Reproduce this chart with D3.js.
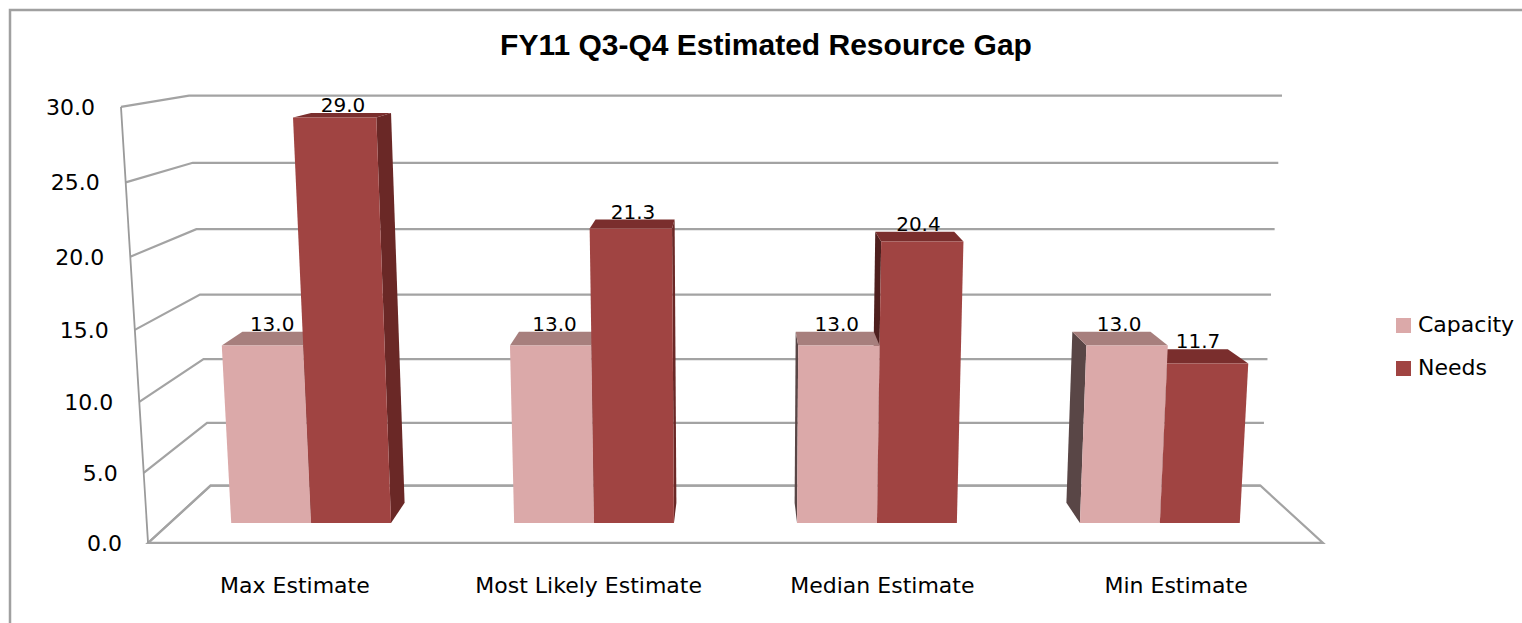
<!DOCTYPE html>
<html>
<head>
<meta charset="utf-8">
<title>FY11 Q3-Q4 Estimated Resource Gap</title>
<script src="https://cdn.jsdelivr.net/npm/d3@7"></script>
<style>
	body { margin: 0; background: #fff; }
	svg { display: block; }
	.tick-label, .cat-label, .legend-label, .value-label { font-family: Tahoma, "DejaVu Sans", sans-serif; fill: #000; }
	.title { font-family: "Liberation Sans", Arial, sans-serif; font-weight: bold; fill: #000; }
</style>
</head>
<body>
<script>
//chart data
var categories = ["Max Estimate", "Most Likely Estimate", "Median Estimate", "Min Estimate"];
var seriesNames = ["Capacity", "Needs"];
var capacity = [13.0, 13.0, 13.0, 13.0];
var needs = [29.0, 21.3, 20.4, 11.7];
var tickValues = [0, 5, 10, 15, 20, 25, 30];
var chartTitle = "FY11 Q3-Q4 Estimated Resource Gap";

(function () {
	var width = 1522, height = 623;

	//perspective camera (pitched down a little, centred on the floor)
	var f = 1694, cx = 735.5, cy = 300;
	var pitch = Math.asin(0.1719),
		cosA = Math.cos(pitch),
		sinA = Math.sin(pitch);
	var camHeight = 313.2, camDist = 960.5;

	//world box: floor width, depth and wall height
	var floorW = 693.6, floorD = 120.8, wallH = 256.2;

	var colors = {
		Capacity: { front: "#dba9a9", top: "#a77f7d", side: "#594646" },
		Needs: { front: "#a04442", top: "#7a2e2d", side: "#6a2826", sideL: "#4e1f1e" }
	};

	function project(x, y, z) {
		var yr = y - camHeight, zr = camDist + z;
		var yc = yr * cosA + zr * sinA;
		var zc = zr * cosA - yr * sinA;
		return [cx + f * x / zc, cy - f * yc / zc];
	}

	function poly(pts) {
		return "M" + pts.map(function (p) {
			var s = project(p[0], p[1], p[2]);
			return s[0].toFixed(2) + "," + s[1].toFixed(2);
		}).join("L") + "Z";
	}

	//scales
	var yScale = d3.scaleLinear().domain([0, 30]).range([0, wallH]);
	var xBand = d3.scaleBand().domain(categories).range([-floorW / 2, floorW / 2]);
	var xInner = d3.scaleBand().domain(seriesNames).range([0, xBand.bandwidth()]).paddingOuter(0.77);
	var zBand = d3.scaleBand().domain(["row"]).range([0, floorD]).paddingOuter(0.9);

	var svg = d3.select("body")
		.append("svg")
		.attr("width", width)
		.attr("height", height);

	svg.append("rect").attr("width", width).attr("height", height).attr("fill", "#fff");

	//outer chart border (only top and left are inside the picture)
	svg.append("path")
		.attr("d", "M10," + height + "L10,10L" + width + ",10")
		.attr("fill", "none")
		.attr("stroke", "#a0a0a0")
		.attr("stroke-width", 2.5);

	//title
	svg.append("text")
		.attr("class", "title")
		.attr("x", 766)
		.attr("y", 55)
		.attr("text-anchor", "middle")
		.style("font-size", "30px")
		.text(chartTitle);

	var L = -floorW / 2, R = floorW / 2;
	var grid = svg.append("g").attr("fill", "none").attr("stroke", "#a3a3a3").attr("stroke-width", 2.2);

	//floor outline
	grid.append("path").attr("d", poly([[L, 0, 0], [R, 0, 0], [R, 0, floorD], [L, 0, floorD]]));

	//gridlines on side wall and back wall
	grid.selectAll(".gridline")
		.data(tickValues)
		.enter()
		.append("path")
		.attr("class", "gridline")
		.attr("d", function (d) {
			var y = yScale(d);
			var a = project(L, y, 0), b = project(L, y, floorD), c = project(R, y, floorD);
			return "M" + a + "L" + b + "L" + c;
		});

	//front vertical axis line
	grid.append("path")
		.attr("stroke", "#9a9a9a")
		.attr("stroke-width", 1.8)
		.attr("d", "M" + project(L, 0, 0) + "L" + project(L, wallH, 0));

	//tick labels
	svg.selectAll(".tick-label")
		.data(tickValues)
		.enter()
		.append("text")
		.attr("class", "tick-label")
		.attr("x", function (d) { return project(L, yScale(d), 0)[0] - 26; })
		.attr("y", function (d) { return project(L, yScale(d), 0)[1] + 2; })
		.attr("text-anchor", "end")
		.attr("dominant-baseline", "middle")
		.style("font-size", "22px")
		.text(function (d) { return d3.format(".1f")(d); });

	//build bars
	var bars = [];
	categories.forEach(function (cat, i) {
		[capacity[i], needs[i]].forEach(function (v, j) {
			var s = seriesNames[j];
			var x1 = xBand(cat) + xInner(s), x2 = x1 + xInner.bandwidth();
			bars.push({ cat: cat, series: s, value: v, x1: x1, x2: x2 });
		});
	});

	var zf = zBand("row"), zb = zf + zBand.bandwidth();

	//paint bars farthest from the centre first
	bars.sort(function (a, b) {
		return Math.abs((b.x1 + b.x2) / 2) - Math.abs((a.x1 + a.x2) / 2);
	});

	var barG = svg.append("g");
	bars.forEach(function (d) {
		var h = yScale(d.value), c = colors[d.series];
		var g = barG.append("g").attr("class", "bar " + d.series);
		if (d.x2 < 0) {
			g.append("path").attr("fill", c.side)
				.attr("d", poly([[d.x2, 0, zf], [d.x2, 0, zb], [d.x2, h, zb], [d.x2, h, zf]]));
		} else if (d.x1 > 0) {
			g.append("path").attr("fill", c.sideL || c.side)
				.attr("d", poly([[d.x1, 0, zf], [d.x1, 0, zb], [d.x1, h, zb], [d.x1, h, zf]]));
		}
		g.append("path").attr("fill", c.top)
			.attr("d", poly([[d.x1, h, zf], [d.x2, h, zf], [d.x2, h, zb], [d.x1, h, zb]]));
		g.append("path").attr("fill", c.front)
			.attr("d", poly([[d.x1, 0, zf], [d.x2, 0, zf], [d.x2, h, zf], [d.x1, h, zf]]));
	});

	//value labels above the bars
	svg.selectAll(".value-label")
		.data(bars)
		.enter()
		.append("text")
		.attr("class", "value-label")
		.attr("x", function (d) { return project((d.x1 + d.x2) / 2, yScale(d.value), (zf + zb) / 2)[0]; })
		.attr("y", function (d) { return project((d.x1 + d.x2) / 2, yScale(d.value), zb)[1] - 1; })
		.attr("text-anchor", "middle")
		.style("font-size", "20px")
		.text(function (d) { return d3.format(".1f")(d.value); });

	//category labels
	svg.selectAll(".cat-label")
		.data(categories)
		.enter()
		.append("text")
		.attr("class", "cat-label")
		.attr("x", function (d) { return project(xBand(d) + xBand.bandwidth() / 2, 0, 0)[0]; })
		.attr("y", 593)
		.attr("text-anchor", "middle")
		.style("font-size", "22px")
		.text(function (d) { return d; });

	//legend
	var legend = svg.selectAll(".legend")
		.data(seriesNames)
		.enter()
		.append("g")
		.attr("class", "legend")
		.attr("transform", function (d, i) { return "translate(1396," + (318 + i * 43) + ")"; });

	legend.append("rect")
		.attr("width", 15)
		.attr("height", 15)
		.attr("fill", function (d) { return colors[d].front; });

	legend.append("text")
		.attr("class", "legend-label")
		.attr("x", 22)
		.attr("y", 8)
		.attr("dominant-baseline", "middle")
		.style("font-size", "22px")
		.text(function (d) { return d; });
})();
</script>
</body>
</html>
